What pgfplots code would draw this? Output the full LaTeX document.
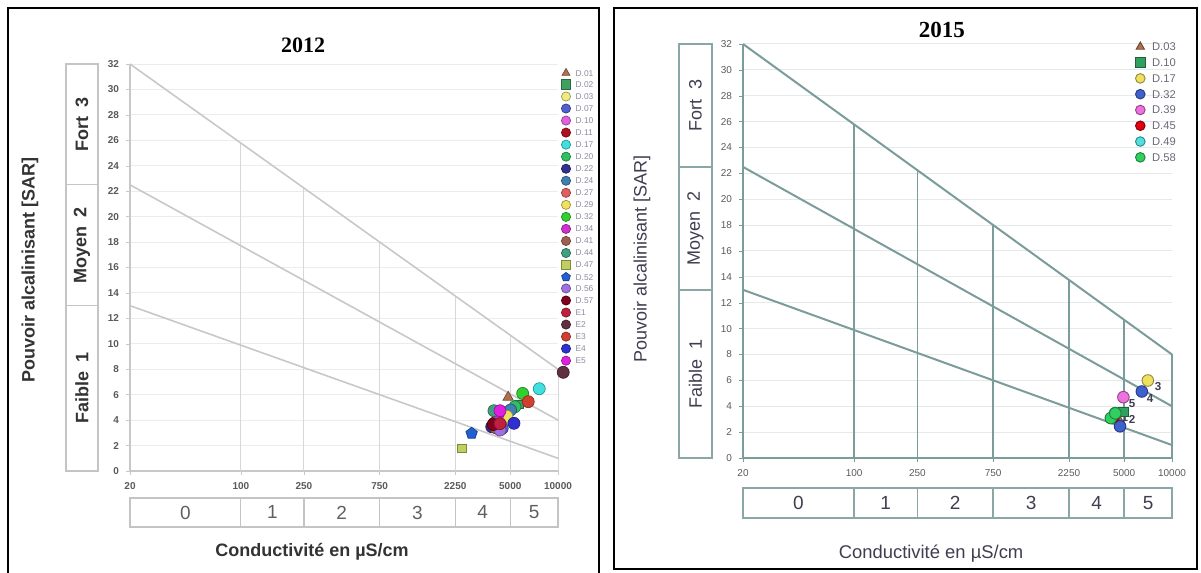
\documentclass[border=0pt]{standalone}
\usepackage{fontspec}
\setmainfont{Liberation Sans}
\newfontfamily\timesf{Liberation Serif}
\usepackage{pgfplots}
\pgfplotsset{compat=1.18}

\definecolor{Lline}{HTML}{C8C8C8}
\definecolor{Lgrid}{HTML}{ECECEC}
\definecolor{Lvert}{HTML}{D4D8D8}
\definecolor{Lbox}{HTML}{C4C4C4}
\definecolor{Ltext}{HTML}{333333}
\definecolor{Ltick}{HTML}{5A5A5A}
\definecolor{Lnum}{HTML}{606060}
\definecolor{LegL}{HTML}{8C8CA0}
\definecolor{Rline}{HTML}{7C9C9C}
\definecolor{Rgrid}{HTML}{E4EAEA}
\definecolor{Rbox}{HTML}{8AA6A6}
\definecolor{Rtext}{HTML}{3E3E50}
\definecolor{LegR}{HTML}{6A6A7A}
% markers 2012
\definecolor{cA}{HTML}{B07050}
\definecolor{cB}{HTML}{40A060}
\definecolor{cC}{HTML}{ECEC80}
\definecolor{cD}{HTML}{5060D0}
\definecolor{cE}{HTML}{E060E0}
\definecolor{cF}{HTML}{B01020}
\definecolor{cG}{HTML}{40E0E0}
\definecolor{cH}{HTML}{30C060}
\definecolor{cI}{HTML}{303090}
\definecolor{cJ}{HTML}{4080B0}
\definecolor{cK}{HTML}{E06060}
\definecolor{cL}{HTML}{F0E060}
\definecolor{cM}{HTML}{30D030}
\definecolor{cN}{HTML}{D030D0}
\definecolor{cO}{HTML}{A06050}
\definecolor{cP}{HTML}{40A080}
\definecolor{cQ}{HTML}{C0D060}
\definecolor{cR}{HTML}{2060D0}
\definecolor{cS}{HTML}{A070E0}
\definecolor{cT}{HTML}{800020}
\definecolor{cU}{HTML}{C02040}
\definecolor{cV}{HTML}{603040}
\definecolor{cW}{HTML}{D04030}
\definecolor{cX}{HTML}{3030D0}
\definecolor{cY}{HTML}{E020E0}
% markers 2015
\definecolor{rA}{HTML}{B07050}
\definecolor{rB}{HTML}{30A060}
\definecolor{rC}{HTML}{F0E060}
\definecolor{rD}{HTML}{4060D0}
\definecolor{rE}{HTML}{F070E0}
\definecolor{rF}{HTML}{E00010}
\definecolor{rG}{HTML}{50E0E0}
\definecolor{rH}{HTML}{30D060}

\pgfplotsset{
  mkL/.style 2 args={only marks, mark=#1, mark size=3.0pt,
    mark options={solid,fill=#2,draw=#2!65!black,line width=0.35pt}},
  mkR/.style 2 args={only marks, mark=#1, mark size=2.9pt,
    mark options={solid,fill=#2,draw=#2!60!black,line width=0.45pt}},
}

\begin{document}
\begin{tikzpicture}
\useasboundingbox (0,0) rectangle (600.5pt,286.5pt);

% ================= 2012 =================
\begin{axis}[xmode=log, xmin=20, xmax=10000, ymin=0, ymax=32,
  enlargelimits=false, scale only axis, clip=false,
  xtick={20,100,250,750,2250,5000,10000},
  xticklabels={20,100,250,750,2250,5000,10000},
  ytick={0,2,...,32},
  axis lines=left, ymajorgrids,
  tick align=outside, major tick length=2pt,
  /pgf/number format/assume math mode=true,
  legend cell align=left,
  at={(65pt,51pt)}, anchor=south west, width=214pt, height=203.5pt,
  axis line style={Lline, line width=0.6pt, -},
  grid style={Lgrid, line width=0.5pt},
  tick style={Lline},
  ticklabel style={font=\bfseries\fontsize{5}{5}\selectfont, text=Ltick},
  legend image code/.code={\draw[#1,mark size=2.3pt] plot coordinates {(0pt,0pt)};},
  legend style={at={(1.007,0.99)}, anchor=north west, draw=none, fill=none,
    font=\fontsize{4.2}{4.2}\selectfont, text=LegL, row sep=1.42pt, column sep=2pt,
    nodes={inner sep=0.5pt, text depth=0pt}, inner sep=0pt},
]
\addplot[Lvert, line width=0.5pt, forget plot] coordinates {(100,0)(100,25.78)};
\addplot[Lvert, line width=0.5pt, forget plot] coordinates {(250,0)(250,22.25)};
\addplot[Lvert, line width=0.5pt, forget plot] coordinates {(750,0)(750,18.00)};
\addplot[Lvert, line width=0.5pt, forget plot] coordinates {(2250,0)(2250,13.76)};
\addplot[Lvert, line width=0.5pt, forget plot] coordinates {(5000,0)(5000,10.68)};
\addplot[Lvert, line width=0.5pt, forget plot] coordinates {(10000,0)(10000,8)};
\addplot[Lline, line width=0.8pt, forget plot] coordinates {(20,32)(10000,8)};
\addplot[Lline, line width=0.8pt, forget plot] coordinates {(20,22.5)(10000,4)};
\addplot[Lline, line width=0.8pt, forget plot] coordinates {(20,13)(10000,1)};

\addplot[mkL={triangle*}{cA}] coordinates {(4850,5.8)}; \addlegendentry{D.01}
\addplot[mkL={square*}{cB}, mark size=2.2pt] coordinates {(5675,5.24)}; \addlegendentry{D.02}
\addplot[mkL={*}{cC}] coordinates {(4650,4.1)}; \addlegendentry{D.03}
\addplot[mkL={*}{cD}] coordinates {(4450,3.35)}; \addlegendentry{D.07}
\addplot[mkL={*}{cE}] coordinates {(4500,4.6)}; \addlegendentry{D.10}
\addplot[mkL={*}{cF}] coordinates {(3945,3.75)}; \addlegendentry{D.11}
\addplot[mkL={*}{cG}] coordinates {(7620,6.47)}; \addlegendentry{D.17}
\addplot[mkL={*}{cH}] coordinates {(5350,5.05)}; \addlegendentry{D.20}
\addplot[mkL={*}{cI}] coordinates {(3820,3.48)}; \addlegendentry{D.22}
\addplot[mkL={*}{cJ}] coordinates {(5025,4.8)}; \addlegendentry{D.24}
\addplot[mkL={*}{cK}] coordinates {(4400,4.0)}; \addlegendentry{D.27}
\addplot[mkL={*}{cL}] coordinates {(4750,4.3)}; \addlegendentry{D.29}
\addplot[mkL={*}{cM}] coordinates {(5985,6.1)}; \addlegendentry{D.32}
\addplot[mkL={*}{cN}] coordinates {(4200,4.5)}; \addlegendentry{D.34}
\addplot[mkL={*}{cO}] coordinates {(4050,3.4)}; \addlegendentry{D.41}
\addplot[mkL={*}{cP}] coordinates {(3945,4.74)}; \addlegendentry{D.44}
\addplot[mkL={square*}{cQ}, mark size=2.2pt] coordinates {(2478,1.78)}; \addlegendentry{D.47}
\addplot[mkL={pentagon*}{cR}] coordinates {(2853,2.96)}; \addlegendentry{D.52}
\addplot[mkL={*}{cS}] coordinates {(4305,3.22)}; \addlegendentry{D.56}
\addplot[mkL={*}{cT}] coordinates {(3900,3.65)}; \addlegendentry{D.57}
\addplot[mkL={*}{cU}] coordinates {(4305,3.72)}; \addlegendentry{E1}
\addplot[mkL={*}{cV}] coordinates {(10790,7.76)}; \addlegendentry{E2}
\addplot[mkL={*}{cW}] coordinates {(6490,5.45)}; \addlegendentry{E3}
\addplot[mkL={*}{cX}] coordinates {(5275,3.75)}; \addlegendentry{E4}
\addplot[mkL={*}{cY}] coordinates {(4305,4.74)}; \addlegendentry{E5}

% bottom class boxes
\draw[Lbox, line width=0.6pt] (axis cs:20,-2.12) rectangle (axis cs:10000,-4.40);
\draw[Lbox, line width=0.6pt] (axis cs:100,-2.12) -- (axis cs:100,-4.40);
\draw[Lbox, line width=0.6pt] (axis cs:250,-2.12) -- (axis cs:250,-4.40);
\draw[Lbox, line width=0.6pt] (axis cs:750,-2.12) -- (axis cs:750,-4.40);
\draw[Lbox, line width=0.6pt] (axis cs:2250,-2.12) -- (axis cs:2250,-4.40);
\draw[Lbox, line width=0.6pt] (axis cs:5000,-2.12) -- (axis cs:5000,-4.40);
\node[font=\fontsize{9.5}{9.5}\selectfont, text=Lnum] at (axis cs:44.7,-3.26) {0};
\node[font=\fontsize{9.5}{9.5}\selectfont, text=Lnum] at (axis cs:158,-3.26) {1};
\node[font=\fontsize{9.5}{9.5}\selectfont, text=Lnum] at (axis cs:433,-3.26) {2};
\node[font=\fontsize{9.5}{9.5}\selectfont, text=Lnum] at (axis cs:1299,-3.26) {3};
\node[font=\fontsize{9.5}{9.5}\selectfont, text=Lnum] at (axis cs:3354,-3.26) {4};
\node[font=\fontsize{9.5}{9.5}\selectfont, text=Lnum] at (axis cs:7071,-3.26) {5};
% side class boxes
\draw[Lbox, line width=0.6pt] ([xshift=-32pt]axis cs:20,0) rectangle ([xshift=-16pt]axis cs:20,32);
\draw[Lbox, line width=0.6pt] ([xshift=-32pt]axis cs:20,13) -- ([xshift=-16pt]axis cs:20,13);
\draw[Lbox, line width=0.6pt] ([xshift=-32pt]axis cs:20,22.5) -- ([xshift=-16pt]axis cs:20,22.5);
\node[rotate=90, font=\bfseries\fontsize{9}{9}\selectfont, text=Ltext] at ([xshift=-24pt]axis cs:20,6.5) {Faible\hspace{0.5em}1};
\node[rotate=90, font=\bfseries\fontsize{9}{9}\selectfont, text=Ltext] at ([xshift=-24pt]axis cs:20,17.75) {Moyen\hspace{0.5em}2};
\node[rotate=90, font=\bfseries\fontsize{9}{9}\selectfont, text=Ltext] at ([xshift=-24pt]axis cs:20,27.25) {Fort\hspace{0.5em}3};
\node[rotate=90, font=\bfseries\fontsize{9}{9}\selectfont, text=Ltext] at ([xshift=-50pt]axis cs:20,15.8) {Pouvoir alcalinisant [SAR]};
\node[font=\bfseries\fontsize{9}{9}\selectfont, text=Ltext] at (axis cs:281,-6.37) {Conductivité en µS/cm};
\node[font=\timesf\bfseries\fontsize{11}{11}\selectfont] at (axis cs:247,33.5) {2012};
\end{axis}

% ================= 2015 =================
\begin{axis}[xmode=log, xmin=20, xmax=10000, ymin=0, ymax=32,
  enlargelimits=false, scale only axis, clip=false,
  xtick={20,100,250,750,2250,5000,10000},
  xticklabels={20,100,250,750,2250,5000,10000},
  ytick={0,2,...,32},
  axis lines=left, ymajorgrids,
  tick align=outside, major tick length=2pt,
  /pgf/number format/assume math mode=true,
  legend cell align=left,
  at={(371.5pt,57.5pt)}, anchor=south west, width=214.5pt, height=207pt,
  axis line style={Rline, line width=0.7pt, -},
  grid style={Rgrid, line width=0.5pt},
  tick style={Rline},
  ticklabel style={font=\fontsize{5}{5}\selectfont, text=Ltick},
  legend image code/.code={\draw[#1,mark size=2.4pt] plot coordinates {(0pt,0pt)};},
  legend style={at={(0.914,1.006)}, anchor=north west, draw=none, fill=none,
    font=\fontsize{5.6}{5.6}\selectfont, text=LegR, row sep=3.0pt, column sep=3pt,
    nodes={inner sep=0.5pt, text depth=0pt}, inner sep=0pt},
]
\addplot[Rline, line width=0.7pt, forget plot] coordinates {(100,0)(100,25.78)};
\addplot[Rline, line width=0.7pt, forget plot] coordinates {(250,0)(250,22.25)};
\addplot[Rline, line width=0.7pt, forget plot] coordinates {(750,0)(750,18.00)};
\addplot[Rline, line width=0.7pt, forget plot] coordinates {(2250,0)(2250,13.76)};
\addplot[Rline, line width=0.7pt, forget plot] coordinates {(5000,0)(5000,10.68)};
\addplot[Rline, line width=0.7pt, forget plot] coordinates {(10000,0)(10000,8)};
\addplot[Rline, line width=1pt, forget plot] coordinates {(20,32)(10000,8)};
\addplot[Rline, line width=1pt, forget plot] coordinates {(20,22.5)(10000,4)};
\addplot[Rline, line width=1pt, forget plot] coordinates {(20,13)(10000,1)};

\addplot[mkR={triangle*}{rA}] coordinates {(4600,3.0)}; \addlegendentry{D.03}
\addplot[mkR={square*}{rB}, mark size=2.3pt] coordinates {(4945,3.59)}; \addlegendentry{D.10}
\addplot[mkR={*}{rC}] coordinates {(7046,5.99)}; \addlegendentry{D.17}
\addplot[mkR={*}{rD}] coordinates {(6460,5.14)(4710,2.45)}; \addlegendentry{D.32}
\addplot[mkR={*}{rE}] coordinates {(4945,4.70)}; \addlegendentry{D.39}
\addplot[mkR={*}{rF}] coordinates {(4300,3.2)}; \addlegendentry{D.45}
\addplot[mkR={*}{rG}] coordinates {(4385,3.47)}; \addlegendentry{D.49}
\addplot[mkR={*}{rH}] coordinates {(4121,3.08)(4400,3.45)}; \addlegendentry{D.58}

\node[font=\bfseries\fontsize{5.8}{5.8}\selectfont, text=Rtext, inner sep=0pt] at (axis cs:8180,5.5) {3};
\node[font=\bfseries\fontsize{5.8}{5.8}\selectfont, text=Rtext, inner sep=0pt] at (axis cs:7280,4.57) {4};
\node[font=\bfseries\fontsize{5.8}{5.8}\selectfont, text=Rtext, inner sep=0pt] at (axis cs:5610,4.19) {5};
\node[font=\bfseries\fontsize{5.8}{5.8}\selectfont, text=Rtext, inner sep=0pt] at (axis cs:5610,2.95) {2};
\node[font=\bfseries\fontsize{5.8}{5.8}\selectfont, text=Rtext, inner sep=0pt] at (axis cs:5050,3.1) {1};

\draw[Rbox, line width=0.7pt] (axis cs:20,-2.32) rectangle (axis cs:10000,-4.65);
\draw[Rbox, line width=0.7pt] (axis cs:100,-2.32) -- (axis cs:100,-4.65);
\draw[Rbox, line width=0.7pt] (axis cs:250,-2.32) -- (axis cs:250,-4.65);
\draw[Rbox, line width=0.7pt] (axis cs:750,-2.32) -- (axis cs:750,-4.65);
\draw[Rbox, line width=0.7pt] (axis cs:2250,-2.32) -- (axis cs:2250,-4.65);
\draw[Rbox, line width=0.7pt] (axis cs:5000,-2.32) -- (axis cs:5000,-4.65);
\node[font=\fontsize{9.5}{9.5}\selectfont, text=Rtext] at (axis cs:44.7,-3.48) {0};
\node[font=\fontsize{9.5}{9.5}\selectfont, text=Rtext] at (axis cs:158,-3.48) {1};
\node[font=\fontsize{9.5}{9.5}\selectfont, text=Rtext] at (axis cs:433,-3.48) {2};
\node[font=\fontsize{9.5}{9.5}\selectfont, text=Rtext] at (axis cs:1299,-3.48) {3};
\node[font=\fontsize{9.5}{9.5}\selectfont, text=Rtext] at (axis cs:3354,-3.48) {4};
\node[font=\fontsize{9.5}{9.5}\selectfont, text=Rtext] at (axis cs:7071,-3.48) {5};
\draw[Rbox, line width=0.7pt] ([xshift=-32pt]axis cs:20,0) rectangle ([xshift=-15.5pt]axis cs:20,32);
\draw[Rbox, line width=0.7pt] ([xshift=-32pt]axis cs:20,13) -- ([xshift=-15.5pt]axis cs:20,13);
\draw[Rbox, line width=0.7pt] ([xshift=-32pt]axis cs:20,22.5) -- ([xshift=-15.5pt]axis cs:20,22.5);
\node[rotate=90, font=\fontsize{9}{9}\selectfont, text=Rtext] at ([xshift=-23.75pt]axis cs:20,6.5) {Faible\hspace{0.55em}1};
\node[rotate=90, font=\fontsize{9}{9}\selectfont, text=Rtext] at ([xshift=-23.75pt]axis cs:20,17.75) {Moyen\hspace{0.55em}2};
\node[rotate=90, font=\fontsize{9}{9}\selectfont, text=Rtext] at ([xshift=-23.75pt]axis cs:20,27.25) {Fort\hspace{0.55em}3};
\node[rotate=90, font=\fontsize{9}{9}\selectfont, text=Rtext] at ([xshift=-50.5pt]axis cs:20,15.4) {Pouvoir alcalinisant [SAR]};
\node[font=\fontsize{9.2}{9.2}\selectfont, text=Rtext] at (axis cs:305,-7.36) {Conductivité en µS/cm};
\node[font=\timesf\bfseries\fontsize{11.5}{11.5}\selectfont] at (axis cs:357,33.1) {2015};
\end{axis}

% frames
\draw[line width=1.3pt] (4pt,282.5pt) rectangle (299.5pt,-3pt);
\draw[line width=1.3pt] (307pt,282.5pt) rectangle (598.5pt,2pt);
\end{tikzpicture}
\end{document}
